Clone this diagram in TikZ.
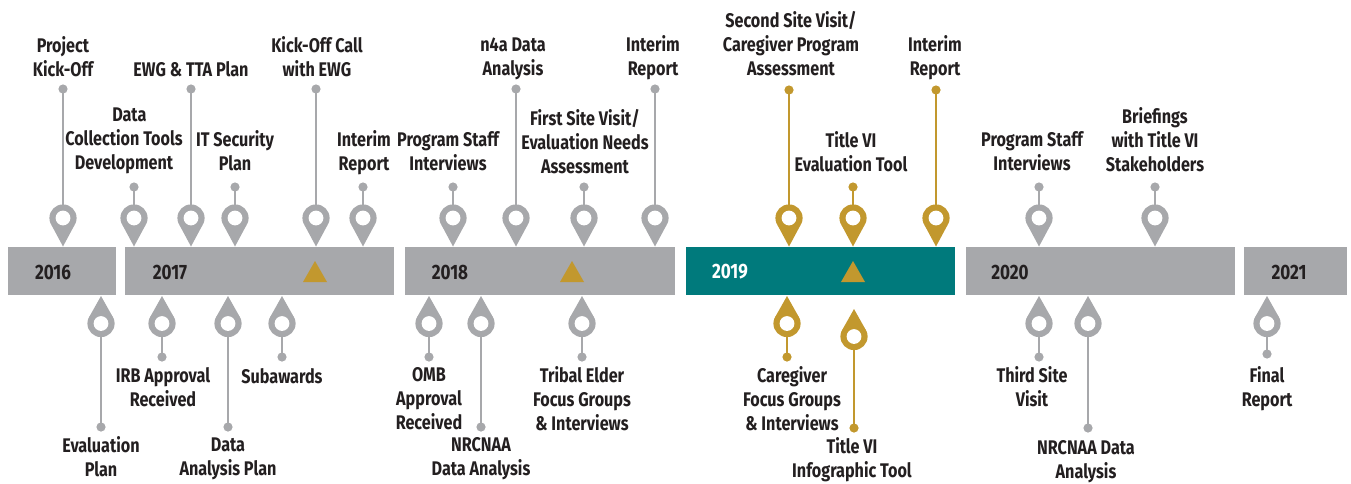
\documentclass[tikz,border=0pt]{standalone}
\usepackage{fontspec}
\setmainfont[FakeStretch=0.82,BoldFont={Fira Sans Bold}]{Fira Sans}
\definecolor{pgrey}{HTML}{A7A8AB}
\definecolor{pgold}{HTML}{C2982E}
\definecolor{pteal}{HTML}{007A7C}
\definecolor{ptext}{HTML}{231F20}
\tikzset{
  lab/.style={align=center,inner sep=0pt,text=ptext,yshift=-1.8pt,
    font=\bfseries\fontsize{14.8}{18}\selectfont,
    execute at begin node=\strut,execute at end node=\strut},
  yearlab/.style={inner sep=0pt,text=ptext,font=\bfseries\fontsize{15.6}{18}\selectfont},
  bar/.style={fill=pgrey,draw=none},
  stem/.style={line width=2.2pt},
}
% \pinup{name}{x}{dot y}{colour}
\newcommand{\pinup}[4]{%
  \coordinate (#1top) at (#2,#3);
  \coordinate (#1c) at (#2,218);
  \draw[stem,#4] (#1top) -- (#1c);
  \fill[#4] (#1top) circle (4.6);
  \fill[#4] (#2,246.5) -- (#2-11.8,224.5) -- (#2+11.8,224.5) -- cycle;
  \fill[#4] (#1c) circle (13.6);
  \fill[white] (#1c) circle (7.4);
}
% \pindown{name}{x}{tip y}{dot y}{colour}
\newcommand{\pindown}[5]{%
  \coordinate (#1bot) at (#2,#4);
  \coordinate (#1c) at (#2,#3+27.5);
  \draw[stem,#5] (#1bot) -- (#1c);
  \fill[#5] (#1bot) circle (4.6);
  \fill[#5] (#2,#3) -- (#2-11.8,#3+21) -- (#2+11.8,#3+21) -- cycle;
  \fill[#5] (#1c) circle (13.6);
  \fill[white] (#1c) circle (7.4);
}
\begin{document}
\begin{tikzpicture}[x=0.75pt,y=-0.75pt]
\useasboundingbox (0,0) rectangle (1351,483);
% bars
\fill[bar] (8,247) rectangle (116,295);
\fill[bar] (125,247) rectangle (394,295);
\fill[bar] (405,247) rectangle (675,295);
\fill[pteal] (686,247) rectangle (955,295);
\fill[bar] (966,247) rectangle (1235,295);
\fill[bar] (1244,247) rectangle (1347,295);
\foreach \tx in {315,572,853}{\fill[pgold] (\tx,261) -- (\tx+12,282) -- (\tx-12,282) -- cycle;}
\node[yearlab] (y16) at (53,272) {2016};
\node[yearlab] (y17) at (170,272) {2017};
\node[yearlab] (y18) at (450,272) {2018};
\node[yearlab,text=white] (y19) at (730,272) {2019};
\node[yearlab] (y20) at (1010,272) {2020};
\node[yearlab] (y21) at (1289,272) {2021};
% upper pins
\pinup{a}{63}{89}{pgrey}
\pinup{b}{134}{187}{pgrey}
\pinup{c}{191}{89}{pgrey}
\pinup{d}{235}{187}{pgrey}
\pinup{e}{316}{89}{pgrey}
\pinup{f}{363}{187}{pgrey}
\pinup{g}{453}{187}{pgrey}
\pinup{h}{516}{89}{pgrey}
\pinup{i}{584}{187}{pgrey}
\pinup{j}{655}{89}{pgrey}
\pinup{k}{789}{90}{pgold}
\pinup{l}{853}{187}{pgold}
\pinup{m}{936}{90}{pgold}
\pinup{n}{1039}{187}{pgrey}
\pinup{o}{1155}{187}{pgrey}
% lower pins
\pindown{p}{101}{296}{427}{pgrey}
\pindown{q}{162}{296}{357}{pgrey}
\pindown{r}{228}{296}{427}{pgrey}
\pindown{s}{282}{296}{357}{pgrey}
\pindown{t}{429}{296}{357}{pgrey}
\pindown{u}{481}{296}{427}{pgrey}
\pindown{v}{582}{296}{357}{pgrey}
\pindown{w}{787}{296}{357}{pgold}
\pindown{x}{854}{309}{428}{pgold}
\pindown{y}{1039}{296}{357}{pgrey}
\pindown{z}{1088}{296}{428}{pgrey}
\pindown{aa}{1267}{296}{354}{pgrey}
% labels
\node[lab] (la) at (63,58) {Project\\Kick-Off};
\node[lab] (lb) at (124,140) {\hspace*{8pt}Data\\Collection Tools\\Development};
\node[lab] (lc) at (191,69) {EWG \& TTA Plan};
\node[lab] (ld) at (235,152) {IT Security\\Plan};
\node[lab] (le) at (317,58) {Kick-Off Call\\with EWG};
\node[lab] (lf) at (364,152) {Interim\\Report};
\node[lab] (lg) at (448,152) {Program Staff\\Interviews};
\node[lab] (lh) at (513,58) {n4a Data\\Analysis};
\node[lab] (li) at (585,143) {First Site Visit/\\Evaluation Needs\\Assessment};
\node[lab] (lj) at (653,57) {Interim\\Report};
\node[lab] (lk) at (791,45) {Second Site Visit/\\Caregiver Program\\Assessment};
\node[lab] (ll) at (851,153) {Title VI\\Evaluation Tool};
\node[lab] (lm) at (935,57) {Interim\\Report};
\node[lab] (ln) at (1032,152) {Program Staff\\Interviews};
\node[lab] (lo) at (1155,141) {Briefings\\with Title VI\\Stakeholders};
\node[lab] (lp) at (101,458) {Evaluation\\Plan};
\node[lab] (lq) at (163,388) {IRB Approval\\Received};
\node[lab] (lr) at (228,458) {Data\\Analysis Plan};
\node[lab] (ls) at (282,376) {Subawards};
\node[lab] (lt) at (429,400) {OMB\\Approval\\Received};
\node[lab] (lu) at (481,458) {NRCNAA\\Data Analysis};
\node[lab] (lv) at (582,400) {Tribal Elder\\Focus Groups\\\& Interviews};
\node[lab] (lw) at (792,400) {Caregiver\\Focus Groups\\\& Interviews};
\node[lab] (lx) at (852,459) {Title VI\\Infographic Tool};
\node[lab] (ly) at (1032,388) {Third Site\\Visit};
\node[lab] (lz) at (1086,461) {NRCNAA Data\\Analysis};
\node[lab] (laa) at (1267,388) {Final\\Report};
\end{tikzpicture}
\end{document}
